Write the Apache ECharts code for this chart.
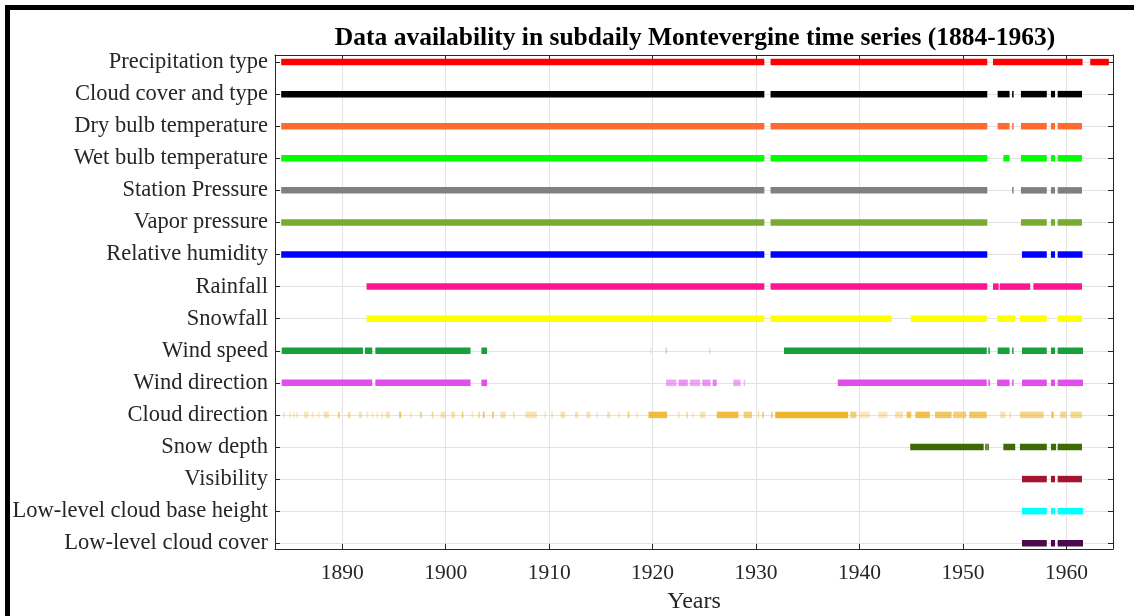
<!DOCTYPE html>
<html>
<head>
<meta charset="utf-8">
<script src="https://cdn.jsdelivr.net/npm/echarts@6/dist/echarts.min.js"></script>
<style>
    html, body { margin: 0; padding: 0; background: #fff; }
    #chart { width: 1134px; height: 616px; }
</style>
</head>
<body>
<div id="chart"></div>
<script>
// variable names, top row first
var variables = ["Precipitation type", "Cloud cover and type", "Dry bulb temperature", "Wet bulb temperature",
    "Station Pressure", "Vapor pressure", "Relative humidity", "Rainfall", "Snowfall", "Wind speed",
    "Wind direction", "Cloud direction", "Snow depth", "Visibility", "Low-level cloud base height",
    "Low-level cloud cover"];

// available periods [from, to, coverage(optional, 0-1)] in years
var precipType = [[1884.1, 1930.8], [1931.4, 1952.35], [1952.9, 1961.56], [1962.3, 1964.1]];
var cloudCover = [[1884.1, 1930.8], [1931.4, 1952.35], [1953.35, 1954.5], [1954.75, 1954.85], [1955.6, 1958.1], [1958.5, 1958.9], [1959.15, 1961.5]];
var dryBulb = [[1884.1, 1930.8], [1931.4, 1952.35], [1953.35, 1954.5], [1954.75, 1954.85], [1955.6, 1958.1], [1958.5, 1958.9], [1959.15, 1961.5]];
var wetBulb = [[1884.1, 1930.8], [1931.4, 1952.35], [1953.9, 1954.5], [1955.6, 1958.1], [1958.5, 1958.9], [1959.15, 1961.5]];
var stationPressure = [[1884.1, 1930.8], [1931.4, 1952.35], [1954.75, 1954.85], [1955.6, 1958.1], [1958.5, 1958.9], [1959.15, 1961.5]];
var vaporPressure = [[1884.1, 1930.8], [1931.4, 1952.35], [1955.6, 1958.1], [1958.5, 1958.9], [1959.15, 1961.5]];
var relHumidity = [[1884.1, 1930.8], [1931.4, 1952.35], [1955.7, 1958.1], [1958.5, 1958.9], [1959.15, 1961.55]];
var rainfall = [[1892.35, 1930.8], [1931.4, 1952.35], [1952.9, 1953.45], [1953.55, 1956.5], [1956.8, 1961.5]];
var snowfall = [[1892.35, 1930.8], [1931.4, 1943.1], [1944.95, 1952.3], [1953.3, 1955.05], [1955.5, 1958.1], [1959.15, 1961.5]];
var windSpeed = [[1884.15, 1892.0], [1892.2, 1892.9], [1893.2, 1902.4], [1903.45, 1904.0], [1919.75, 1919.85, 0.15],
    [1921.25, 1921.35, 0.3], [1925.45, 1925.55, 0.2], [1932.7, 1952.3], [1952.45, 1952.55], [1953.35, 1954.5],
    [1954.75, 1954.85], [1955.7, 1958.1], [1958.5, 1958.9], [1959.15, 1961.6]];
var windDirection = [[1884.15, 1892.9], [1893.2, 1902.4], [1903.45, 1904.0], [1921.3, 1922.3, 0.5], [1922.5, 1923.4, 0.6],
    [1923.6, 1924.6, 0.5], [1924.8, 1925.6, 0.6], [1925.8, 1926.2, 0.7], [1927.8, 1928.5, 0.5], [1928.8, 1928.9, 0.4],
    [1937.9, 1952.3], [1952.45, 1952.55], [1953.3, 1954.5], [1954.75, 1954.85], [1955.7, 1958.1], [1958.5, 1958.9],
    [1959.15, 1961.6]];
var cloudDirection = [[1884.3, 1884.45, 0.3], [1884.9, 1885.05, 0.3], [1885.25, 1885.4, 0.3], [1885.55, 1885.7, 0.3],
    [1886.3, 1886.75, 0.3], [1887.05, 1887.2, 0.3], [1887.65, 1887.8, 0.3], [1888.2, 1888.7, 0.35], [1889.6, 1889.75, 0.7],
    [1890.55, 1890.8, 0.4], [1891.6, 1891.9, 0.35], [1892.35, 1892.5, 0.3], [1892.85, 1893.0, 0.3], [1893.3, 1893.45, 0.3],
    [1893.8, 1893.95, 0.3], [1894.2, 1894.6, 0.35], [1895.5, 1895.7, 0.7], [1896.55, 1896.7, 0.3], [1897.5, 1897.7, 0.5],
    [1898.65, 1898.8, 0.5], [1899.5, 1900.0, 0.35], [1900.55, 1900.9, 0.4], [1901.55, 1901.7, 0.7], [1902.5, 1902.65, 0.3],
    [1903.15, 1903.3, 0.5], [1903.6, 1903.75, 0.8], [1904.5, 1904.65, 0.8], [1905.3, 1905.8, 0.35], [1906.5, 1906.65, 0.4],
    [1907.7, 1908.8, 0.35], [1909.55, 1909.7, 0.3], [1910.2, 1910.35, 0.35], [1911.1, 1911.55, 0.35], [1912.5, 1912.8, 0.35],
    [1913.6, 1914.0, 0.35], [1914.55, 1914.7, 0.3], [1915.6, 1915.9, 0.35], [1916.65, 1916.8, 0.3], [1917.6, 1917.75, 0.7],
    [1918.45, 1918.6, 0.3], [1919.6, 1921.4, 0.85], [1922.45, 1922.6, 0.4], [1923.25, 1923.4, 0.5], [1923.8, 1923.95, 0.3],
    [1924.6, 1925.1, 0.35], [1926.2, 1928.3, 0.85], [1928.8, 1929.6, 0.6], [1930.15, 1930.3, 0.4], [1930.6, 1930.75, 0.7],
    [1931.45, 1931.6, 0.7], [1931.85, 1938.9, 0.95], [1939.1, 1939.7, 0.6], [1940.0, 1941.0, 0.3], [1941.8, 1942.7, 0.3],
    [1943.45, 1944.2, 0.35], [1944.55, 1945.0, 0.75], [1945.4, 1946.8, 0.8], [1947.3, 1948.9, 0.7], [1949.05, 1950.3, 0.6],
    [1950.6, 1952.3, 0.7], [1953.6, 1954.1, 0.35], [1954.5, 1954.65, 0.4], [1955.5, 1957.8, 0.55], [1958.55, 1958.75, 0.9],
    [1959.4, 1960.0, 0.5], [1960.4, 1961.5, 0.5]];
var snowDepth = [[1944.9, 1952.0], [1952.15, 1952.25], [1952.35, 1952.45], [1953.9, 1955.05], [1955.5, 1958.1], [1958.5, 1959.0], [1959.15, 1961.5]];
var visibility = [[1955.7, 1958.1], [1958.5, 1958.9], [1959.15, 1961.5]];
var cloudBase = [[1955.7, 1958.1], [1958.5, 1958.9], [1959.15, 1961.6]];
var lowCloudCover = [[1955.7, 1958.1], [1958.5, 1958.9], [1959.15, 1961.6]];

var periods = [precipType, cloudCover, dryBulb, wetBulb, stationPressure, vaporPressure, relHumidity, rainfall,
    snowfall, windSpeed, windDirection, cloudDirection, snowDepth, visibility, cloudBase, lowCloudCover];

var colors = ["#ff0000", "#000000", "#ff6a2d", "#00ff00", "#808080", "#77ac30", "#0000ff", "#ff1493",
    "#ffff00", "#18a03c", "#e24ded", "#edb120", "#3d6a05", "#a2142f", "#00ffff", "#4b0a4b"];

var fontFamily = "'Liberation Serif', 'DejaVu Serif', serif";
var textColor = "#262626";

var myChart = echarts.init(document.getElementById("chart"));

function renderBar(params, api) {
    var row = api.value(0);
    var p0 = api.coord([api.value(1), row]);
    var p1 = api.coord([api.value(2), row]);
    var h = 6.5;
    var w = Math.max(p1[0] - p0[0], 1.5);
    return {
        type: "rect",
        shape: { x: p0[0], y: p0[1] - h / 2, width: w, height: h },
        style: { fill: colors[row - 1], opacity: api.value(3) }
    };
}

var series = [];
for (var i = 0; i < variables.length; i++) {
    var data = [];
    for (var j = 0; j < periods[i].length; j++) {
        var p = periods[i][j];
        data.push([i + 1, p[0], p[1], p.length > 2 ? p[2] : 1]);
    }
    series.push({
        name: variables[i],
        type: "custom",
        renderItem: renderBar,
        clip: true,
        encode: { x: [1, 2], y: 0 },
        silent: true,
        data: data
    });
}

var axisLineStyle = { color: textColor, width: 1 };
var gridLineStyle = { color: "#e3e3e3", width: 1 };

function yLabel(v) {
    var k = Math.round(v);
    if (Math.abs(v - k) > 1e-6 || k < 1 || k > variables.length) return "";
    return variables[k - 1];
}

function xLabel(v) {
    return Math.abs(v % 10) < 1e-6 ? String(v) : "";
}

var option = {
    animation: false,
    grid: { left: 275, top: 55, right: 21, bottom: 67, outerBoundsMode: "none" },
    graphic: [
        {
            type: "rect",
            shape: { x: 7.5, y: 7.5, width: 1400, height: 900 },
            style: { fill: "none", stroke: "#000", lineWidth: 5 },
            z: 100
        },
        {
            type: "text",
            x: 695,
            y: 38,
            style: {
                text: "Data availability in subdaily Montevergine time series (1884-1963)",
                fontFamily: fontFamily,
                fontWeight: "bold",
                fontSize: 25.5,
                fill: "#000",
                textAlign: "center",
                textVerticalAlign: "middle"
            }
        }
    ],
    xAxis: [
        {
            type: "value",
            position: "bottom",
            min: 1883.5,
            max: 1964.5,
            splitNumber: 8,
            minInterval: 10,
            maxInterval: 10,
            name: "Years",
            nameLocation: "middle",
            nameGap: 41,
            nameTextStyle: { fontFamily: fontFamily, fontSize: 24, color: textColor },
            axisLine: { lineStyle: axisLineStyle },
            axisTick: { inside: true, length: 5, lineStyle: axisLineStyle },
            axisLabel: { formatter: xLabel, fontFamily: fontFamily, fontSize: 21.5, color: textColor, margin: 13 },
            splitLine: { show: true, lineStyle: gridLineStyle }
        },
        {
            type: "value",
            position: "top",
            min: 1883.5,
            max: 1964.5,
            splitNumber: 8,
            minInterval: 10,
            maxInterval: 10,
            axisLine: { lineStyle: axisLineStyle },
            axisTick: { inside: true, length: 5, lineStyle: axisLineStyle },
            axisLabel: { show: false },
            splitLine: { show: false }
        }
    ],
    yAxis: [
        {
            type: "value",
            position: "left",
            inverse: true,
            min: 0.78,
            max: 16.18,
            splitNumber: 15,
            minInterval: 1,
            maxInterval: 1,
            axisLine: { lineStyle: axisLineStyle },
            axisTick: { inside: true, length: 5, lineStyle: axisLineStyle },
            axisLabel: { formatter: yLabel, fontFamily: fontFamily, fontSize: 22.5, color: textColor, margin: 7 },
            splitLine: { show: true, lineStyle: gridLineStyle }
        },
        {
            type: "value",
            position: "right",
            inverse: true,
            min: 0.78,
            max: 16.18,
            splitNumber: 15,
            minInterval: 1,
            maxInterval: 1,
            axisLine: { lineStyle: axisLineStyle },
            axisTick: { inside: true, length: 5, lineStyle: axisLineStyle },
            axisLabel: { show: false },
            splitLine: { show: false }
        }
    ],
    series: series
};
myChart.setOption(option, true);
</script>
</body>
</html>
